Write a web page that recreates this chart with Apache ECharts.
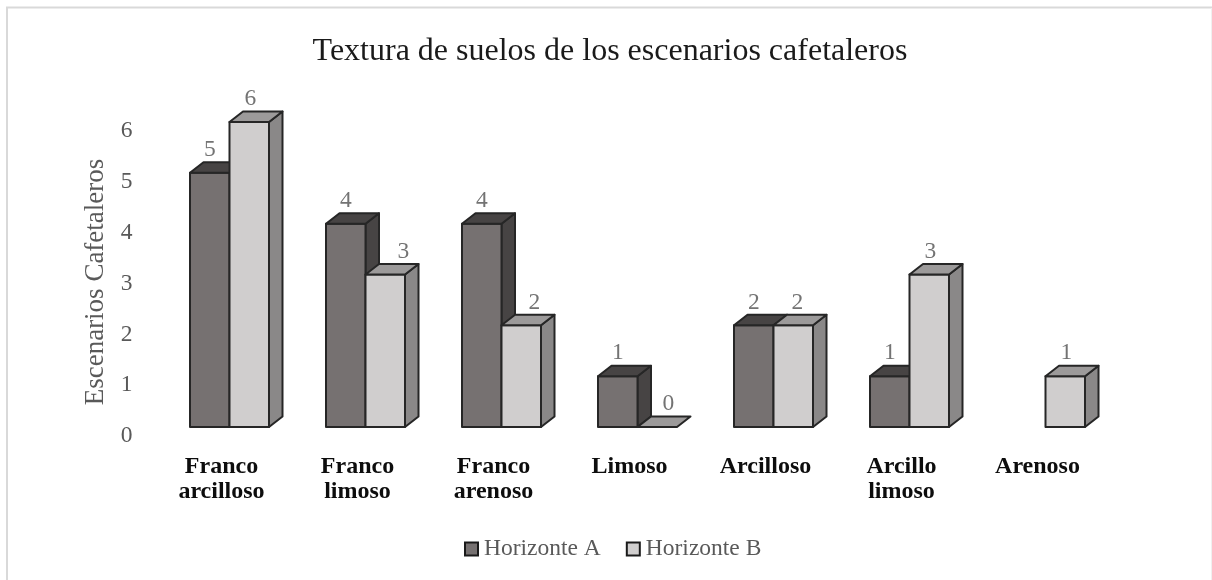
<!DOCTYPE html>
<html><head><meta charset="utf-8">
<style>html,body{margin:0;padding:0;background:#fff}#c{width:1212px;height:580px}</style>
<script src="https://cdn.jsdelivr.net/npm/echarts@6/dist/echarts.min.js"></script>
</head><body><div id="c"></div>
<script>
const categories = ['Franco\narcilloso','Franco\nlimoso','Franco\narenoso','Limoso','Arcilloso','Arcillo\nlimoso','Arenoso'];
const horizonteA = [5,4,4,1,2,1,null];
const horizonteB = [6,3,2,0,2,3,1];
const labelShiftB = [1,18,13,11,4,1,1];
const DX = 13.5, DY = 10.5, BW = 39.5;
const FONT = '"Liberation Serif","Times New Roman",serif';
function bar3d(colors, side){
  return function(params, api){
    const v = api.value(1);
    if (v === null || v === undefined || isNaN(v)) return;
    const base = api.coord([api.value(0), 0]);
    const top = api.coord([api.value(0), v]);
    const x0 = side < 0 ? base[0]-BW : base[0];
    const x1 = x0 + BW;
    const yb = base[1], yt = top[1];
    const ls = {stroke:'#262626', lineWidth:2, lineJoin:'round'};
    const kids = [];
    if (v > 0) {
      kids.push({type:'polygon',shape:{points:[[x1,yb],[x1+DX,yb-DY],[x1+DX,yt-DY],[x1,yt]]},style:Object.assign({fill:colors.side},ls)});
      kids.push({type:'rect',shape:{x:x0,y:yt,width:BW,height:yb-yt},style:Object.assign({fill:colors.front},ls)});
    }
    kids.push({type:'polygon',shape:{points:[[x0,yt],[x0+DX,yt-DY],[x1+DX,yt-DY],[x1,yt]]},style:Object.assign({fill:colors.top},ls)});
    return {type:'group',children:kids};
  };
}
const colA = {front:'#767171',side:'#474444',top:'#474444'};
const colB = {front:'#d0cece',side:'#8a8888',top:'#9c9a9a'};
function series(name,data,cols,side){
  return {name,type:'custom',data:data.map((v,i)=>[i,v]),renderItem:bar3d(cols,side),
    encode:{x:0,y:1},clip:false,itemStyle:{color:cols.front,borderColor:'#1a1a1a',borderWidth:2},z:side<0?2:3};
}
const labelSeries = (data,side,shift)=>({type:'scatter',
  data:data.map((v,i)=>({value:[i,v],label:{offset:[side*19.75+(shift?shift[i]:0),0]}})).filter(d=>d.value[1]!==null),
  symbolSize:0,silent:true,tooltip:{show:false},
  label:{show:true,position:'top',distance:11,color:'#505050',fontFamily:FONT,fontSize:23.5,formatter:p=>String(p.value[1])},z:5});
const chart = echarts.init(document.getElementById('c'),null,{renderer:'canvas'});
chart.setOption({
  animation:false,
  backgroundColor:'#fff',
  title:{text:'Textura de suelos de los escenarios cafetaleros',left:605,top:31,textAlign:'center',
    textStyle:{fontFamily:FONT,fontSize:32,fontWeight:'normal',color:'#1a1a1a'}},
  grid:{left:161.5,width:952,top:122,height:305,containLabel:false},
  xAxis:{type:'category',data:categories,axisLine:{show:false},axisTick:{show:false},
    axisLabel:{color:'#0d0d0d',fontFamily:FONT,fontSize:24,fontWeight:'bold',margin:27,lineHeight:25,align:'center',
      interval:0,padding:[0,16,0,0]}},
  yAxis:{type:'value',min:0,max:6,interval:1,splitLine:{show:false},axisLine:{show:false},axisTick:{show:false},
    name:'Escenarios Cafetaleros',nameLocation:'middle',nameGap:51,nameRotate:90,
    nameTextStyle:{color:'#595959',fontFamily:FONT,fontSize:27,padding:[0,15,0,0]},
    axisLabel:{color:'#595959',fontFamily:FONT,fontSize:23.5,margin:29,verticalAlign:'top',lineHeight:18}},
  legend:{data:['Horizonte A','Horizonte B'],top:532,left:459,itemWidth:13,itemHeight:13,itemGap:25,
    icon:'rect',textStyle:{color:'#595959',fontFamily:FONT,fontSize:23.5,padding:[0,0,0,1]}},
  series:[series('Horizonte A',horizonteA,colA,-1),series('Horizonte B',horizonteB,colB,1),labelSeries(horizonteA,-1),labelSeries(horizonteB,1,labelShiftB)],
  graphic:[
    {type:'rect',shape:{x:7,y:7.5,width:1215,height:590},style:{fill:'none',stroke:'#d9d9d9',lineWidth:2},silent:true,z:-1},
    {type:'line',shape:{x1:1211.5,y1:8,x2:1211.5,y2:580},style:{stroke:'#f0f0f0',lineWidth:1},silent:true,z:-1}
  ]
});
</script></body></html>
